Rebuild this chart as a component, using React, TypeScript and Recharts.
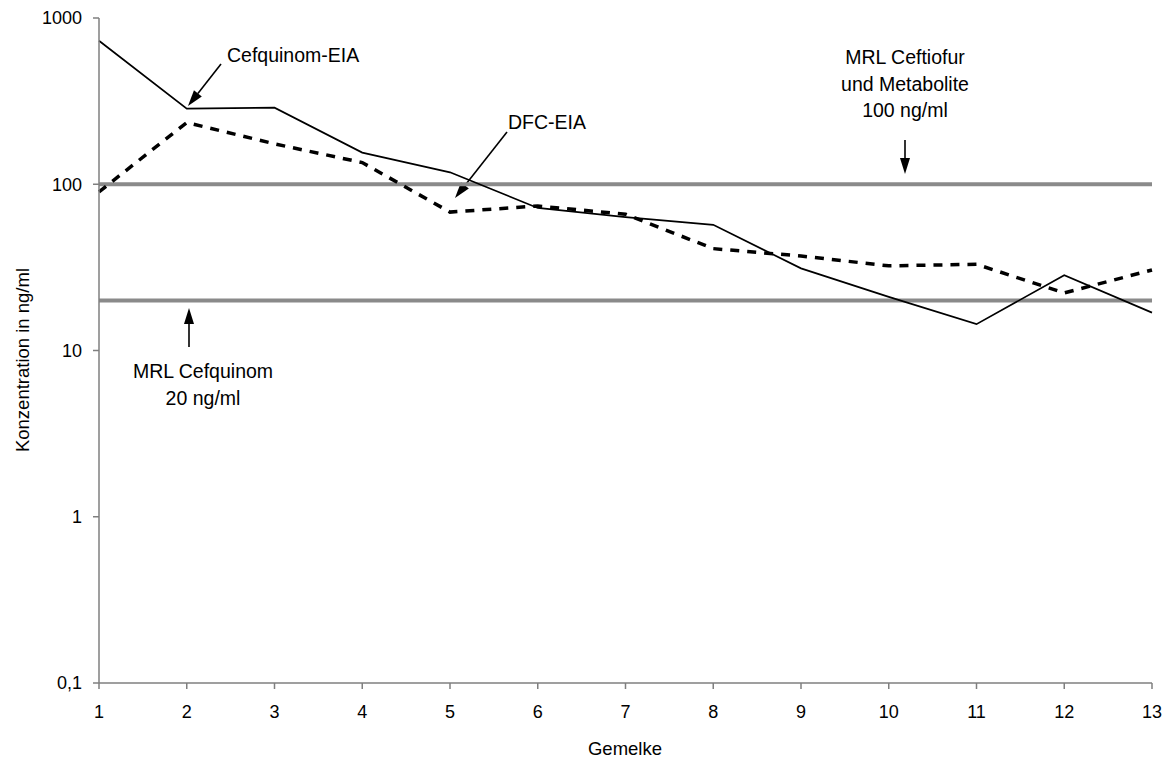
import React from "react";
import { LineChart, Line, XAxis, YAxis, ReferenceLine, Customized } from "recharts";

const gemelke = [1, 2, 3, 4, 5, 6, 7, 8, 9, 10, 11, 12, 13];
const cefquinomEIA = [730, 285, 289, 155, 118, 72, 63.5, 57, 31.2, 21, 14.4, 28.4, 16.9];
const dfcEIA = [90, 235, 175, 135, 68, 74, 66, 41, 37, 32.3, 33, 22.2, 30.5];
const yTicks = [0.1, 1, 10, 100, 1000];
const xTicks = gemelke;
const mrlCeftiofur = 100;
const mrlCefquinom = 20;

const data = gemelke.map((g, i) => ({ x: g, cef: cefquinomEIA[i], dfc: dfcEIA[i] }));

const FONT = "'Liberation Sans', Arial, sans-serif";

function Arrow({ x1, y1, x2, y2 }: { x1: number; y1: number; x2: number; y2: number }) {
  const dx = x2 - x1;
  const dy = y2 - y1;
  const len = Math.sqrt(dx * dx + dy * dy);
  const ux = dx / len;
  const uy = dy / len;
  const hl = 16;
  const hw = 5;
  const bx = x2 - ux * hl;
  const by = y2 - uy * hl;
  const px = -uy;
  const py = ux;
  return (
    <g>
      <line x1={x1} y1={y1} x2={bx} y2={by} stroke="#000" strokeWidth={1.6} />
      <polygon
        points={`${x2},${y2} ${bx + px * hw},${by + py * hw} ${bx - px * hw},${by - py * hw}`}
        fill="#000"
      />
    </g>
  );
}

function Annotations() {
  const ts = { fontFamily: FONT, fontSize: 19.5, fill: "#000" } as const;
  return (
    <g>
      <text x={227} y={62} {...ts}>Cefquinom-EIA</text>
      <Arrow x1={221} y1={64} x2={188} y2={106} />
      <text x={508} y={129} {...ts}>DFC-EIA</text>
      <Arrow x1={507} y1={132} x2={455} y2={198} />
      <text x={905} y={64} textAnchor="middle" {...ts}>MRL Ceftiofur</text>
      <text x={905} y={91} textAnchor="middle" {...ts}>und Metabolite</text>
      <text x={905} y={117} textAnchor="middle" {...ts}>100 ng/ml</text>
      <Arrow x1={905} y1={140} x2={905} y2={174} />
      <text x={203} y={378} textAnchor="middle" {...ts}>MRL Cefquinom</text>
      <text x={203} y={405} textAnchor="middle" {...ts}>20 ng/ml</text>
      <Arrow x1={189} y1={347} x2={189} y2={308} />
      <text
        x={22}
        y={360}
        textAnchor="middle"
        dominantBaseline="central"
        transform="rotate(-90 22 360)"
        {...ts}
        fontSize={18.5}
      >
        Konzentration in ng/ml
      </text>
      <text x={625} y={755} textAnchor="middle" {...ts} fontSize={18.5}>Gemelke</text>
    </g>
  );
}

const fmt = (v: number) => String(v).replace(".", ",");

export default function App() {
  return (
    <div style={{ position: "absolute", left: 0, top: 0, background: "#fff" }}>
      <LineChart
        width={1170}
        height={762}
        data={data}
        margin={{ top: 18, right: 18, bottom: 19, left: 0 }}
      >
        <XAxis
          dataKey="x"
          type="number"
          domain={[1, 13]}
          ticks={xTicks}
          interval={0}
          height={60}
          stroke="#7f7f7f"
          strokeWidth={1.5}
          tickSize={6}
          tickMargin={16}
          tick={{ fill: "#000", fontFamily: FONT, fontSize: 18 }}
        />
        <YAxis
          type="number"
          scale="log"
          domain={[0.1, 1000]}
          ticks={yTicks}
          allowDataOverflow
          width={99}
          stroke="#7f7f7f"
          strokeWidth={1.5}
          tickSize={6}
          tickMargin={11}
          tickFormatter={fmt}
          tick={{ fill: "#000", fontFamily: FONT, fontSize: 18 }}
        />
        <ReferenceLine y={mrlCeftiofur} stroke="#8a8a8a" strokeWidth={4} />
        <ReferenceLine y={mrlCefquinom} stroke="#8a8a8a" strokeWidth={4} />
        <Line
          dataKey="cef"
          type="linear"
          stroke="#000"
          strokeWidth={1.7}
          dot={false}
          isAnimationActive={false}
        />
        <Line
          dataKey="dfc"
          type="linear"
          stroke="#000"
          strokeWidth={3.5}
          strokeDasharray="9 8"
          dot={false}
          isAnimationActive={false}
        />
        <Customized component={<Annotations />} />
      </LineChart>
    </div>
  );
}
